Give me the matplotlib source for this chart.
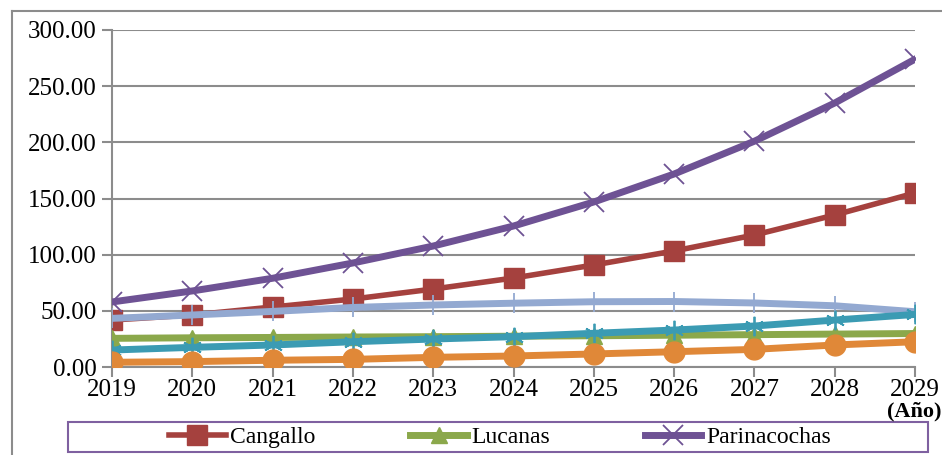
import matplotlib.pyplot as plt
from matplotlib.lines import Line2D
from matplotlib.patches import Rectangle

plt.rcParams['font.family'] = ['Liberation Serif', 'DejaVu Serif']

years = [2019, 2020, 2021, 2022, 2023, 2024, 2025, 2026, 2027, 2028, 2029]
cangallo = [41.8, 46.3, 53.4, 60.5, 69.4, 79.2, 90.8, 103.3, 117.5, 135.3, 154.9]
lucanas = [25.5, 26.0, 26.3, 26.7, 27.0, 27.4, 27.8, 28.3, 28.8, 29.3, 29.8]
parinacochas = [57.9, 67.7, 79.0, 92.6, 107.7, 125.5, 146.9, 171.8, 201.0, 235.0, 274.0]
serie4 = [43.3, 46.3, 49.5, 53.0, 55.2, 56.8, 58.1, 58.3, 57.0, 54.5, 49.2]
serie5 = [15.1, 17.5, 19.6, 22.5, 24.9, 27.0, 30.0, 32.9, 36.5, 41.8, 46.8]
serie6 = [4.2, 4.8, 6.0, 6.8, 8.6, 9.8, 11.6, 13.6, 15.7, 19.6, 22.5]

c_red = '#A5413E'
c_green = '#8BA84B'
c_purple = '#6E5294'
c_lblue = '#93A9D1'
c_teal = '#3B9BB3'
c_orange = '#E08838'

fig = plt.figure(figsize=(9.42, 4.55), dpi=100)
ax = fig.add_axes([112/942, 1-367/455, (915-112)/942, (367-30)/455])

ax.plot(years, cangallo, color=c_red, lw=4, marker='s', ms=14, zorder=3)
ax.plot(years, lucanas, color=c_green, lw=5, marker='^', ms=12, zorder=3)
ax.plot(years, parinacochas, color=c_purple, lw=5, marker='x', ms=14, mew=1.3, zorder=3)
ax.plot(years, serie4, color=c_lblue, lw=5, marker='+', ms=15, mew=1.3, zorder=4)
ax.plot(years, serie5, color=c_teal, lw=5, marker=(6, 2, 0), ms=14, mew=1.3, zorder=4)
ax.plot(years, serie6, color=c_orange, lw=5, marker='o', ms=15, zorder=4)

ax.set_xlim(2019, 2029)
ax.set_ylim(0, 300)
ax.set_xticks(years)
ax.set_yticks(range(0, 301, 50))
ax.set_yticklabels(['%.2f' % v for v in range(0, 301, 50)])
ax.grid(axis='y', color='#8C8C8C', lw=1.5)
ax.set_axisbelow(True)
for s in ['top', 'right']:
    ax.spines[s].set_visible(False)
ax.spines['left'].set_color('#8C8C8C')
ax.spines['left'].set_linewidth(1.5)
ax.spines['bottom'].set_color('#8C8C8C')
ax.spines['bottom'].set_linewidth(1.5)
ax.tick_params(axis='both', colors='#8C8C8C', width=1.5, length=7, labelcolor='black', labelsize=18)
ax.tick_params(axis='x', pad=2)
ax.tick_params(axis='y', pad=4)

fig.text(941/942, 1-401/455, '(Año)', ha='right', va='top', fontsize=16, fontweight='bold')

# outer chart border (left and top)
fig.add_artist(Line2D([12/942, 12/942], [0, 1-11/455], color='#8C8C8C', lw=1.5))
fig.add_artist(Line2D([12/942, 1], [1-11/455, 1-11/455], color='#8C8C8C', lw=1.5))

# legend box
fig.add_artist(Rectangle((68/942, 1-452/455), (928-68)/942, 30/455, transform=fig.transFigure,
                         fill=False, edgecolor='#7F60A0', lw=1.5))
handles = [
    Line2D([], [], color=c_red, lw=4, marker='s', ms=14),
    Line2D([], [], color=c_green, lw=5, marker='^', ms=12),
    Line2D([], [], color=c_purple, lw=5, marker='x', ms=14, mew=1.3),
]
fig.legend(handles, ['Cangallo', 'Lucanas', 'Parinacochas'], loc='center',
           bbox_to_anchor=(500/942, 1-437/455), ncol=3, frameon=False,
           fontsize=17, handlelength=2.4, columnspacing=4.0, handletextpad=0.2)

fig.savefig('out.png', dpi=100)
